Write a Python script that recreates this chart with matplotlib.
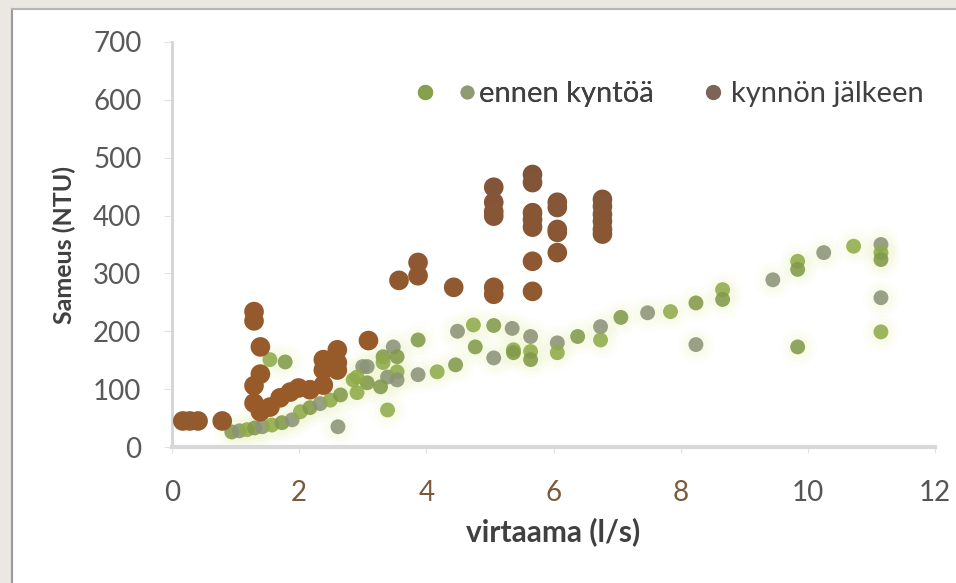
import matplotlib
matplotlib.use("Agg")
import matplotlib.pyplot as plt
from matplotlib.lines import Line2D
from matplotlib.legend_handler import HandlerTuple
from matplotlib.colors import LinearSegmentedColormap
from matplotlib.patches import Rectangle

plt.rcParams['font.family'] = ['Lato', 'DejaVu Sans']

# ---- data ----
series_names = ["ennen kyntöä", "kynnön jälkeen"]

before_x = [0.94, 1.06, 1.18, 1.30, 1.42, 1.57, 1.73, 1.89, 2.02, 2.17, 2.33, 2.49, 2.65,
            2.61, 1.54, 1.78,
            3.00, 2.85, 3.07, 3.39, 3.54, 3.32, 3.48, 3.39, 3.87, 3.87, 4.17, 4.46,
            4.49, 4.74, 4.77, 5.06, 5.37, 5.06, 5.35,
            3.32, 3.54, 3.07, 2.91, 3.28, 3.54, 2.91,
            5.37, 5.64, 5.64, 5.64, 6.06, 6.06, 6.38, 6.74, 6.74, 7.06, 7.48, 7.84,
            8.24, 8.24, 8.66, 8.66, 9.45, 9.84, 9.84, 10.25, 10.72, 9.84,
            11.15, 11.15, 11.15, 11.15, 11.15]
before_y = [26, 28, 30, 33, 35, 38, 42, 47, 61, 68, 75, 81, 90,
            35, 151, 147,
            139, 116, 111, 121, 130, 156, 173, 64, 185, 125, 130, 142,
            200, 211, 173, 154, 168, 210, 205,
            146, 156, 139, 121, 104, 116, 94,
            163, 191, 165, 151, 180, 163, 191, 208, 185, 224, 232, 234,
            249, 177, 272, 255, 289, 321, 307, 336, 347, 173,
            350, 336, 324, 258, 199]

after_x = [0.17, 0.28, 0.41, 0.79, 1.29, 1.29, 1.39, 1.39, 1.29, 1.29, 1.39, 1.54,
           1.70, 1.86, 1.99, 2.17, 2.38, 2.38, 2.38, 2.60, 2.60, 2.60, 3.09, 3.57,
           3.87, 3.87, 4.43, 5.06, 5.06, 5.06, 5.06, 5.06, 5.06, 5.67, 5.67, 5.67,
           5.67, 5.67, 5.67, 5.67, 6.06, 6.06, 6.06, 6.06, 6.06, 6.77, 6.77, 6.77,
           6.77, 6.77, 6.77]
after_y = [45, 45, 45, 45, 234, 218, 173, 126, 106, 76, 61, 69,
           85, 95, 102, 99, 107, 151, 133, 168, 146, 133, 184, 288,
           319, 296, 276, 449, 423, 407, 399, 276, 264, 471, 457, 405,
           393, 380, 321, 269, 423, 414, 376, 371, 336, 428, 416, 402,
           390, 376, 368]

x_ticks = [0, 2, 4, 6, 8, 10, 12]
y_ticks = [0, 100, 200, 300, 400, 500, 600, 700]
x_label = "virtaama (l/s)"
y_label = "Sameus (NTU)"

# ---- figure ----
fig = plt.figure(figsize=(9.56, 5.83), dpi=100)
fig.patch.set_facecolor("white")
# scanned frame edges
fig.patches.append(Rectangle((0, 0), 11/956, 1, transform=fig.transFigure,
                             facecolor="#ebe7e3", edgecolor="none", zorder=0))
fig.patches.append(Rectangle((0, 1 - 8/583), 1, 8/583, transform=fig.transFigure,
                             facecolor="#ebe7e3", edgecolor="none", zorder=0))
fig.add_artist(Line2D([12/956, 12/956], [0, 1 - 9/583], transform=fig.transFigure,
                      color="#9a9a9a", lw=1.5))
fig.add_artist(Line2D([12/956, 1], [1 - 9/583, 1 - 9/583], transform=fig.transFigure,
                      color="#b5b5b5", lw=1.5))

ax = fig.add_axes([172/956, 1 - 447/583, (935 - 172)/956, (447 - 42)/583])
ax.set_xlim(0, 12)
ax.set_ylim(0, 700)

# green series with faint haze
for s_, a_ in [(700, 0.10), (420, 0.14), (240, 0.18)]:
    ax.scatter(before_x, before_y, s=s_, color="#f1f8cf", alpha=a_, lw=0, zorder=1)
shades = ["#82994a", "#8b9378", "#8fab4a"]
green_cols = [shades[i % 3] for i in range(len(before_x))]
ax.scatter(before_x, before_y, s=115, marker="o", c=green_cols, alpha=0.88,
           lw=0, zorder=2)

# brown series
cmap = LinearSegmentedColormap.from_list(
    "br", [(0, "#805a46"), (0.12, "#985a28"), (0.4, "#975b2b"), (1, "#80543a")])
ax.scatter(after_x, after_y, s=200, c=after_y, cmap=cmap, vmin=0, vmax=480,
           lw=0, zorder=3)

for sp in ["top", "right"]:
    ax.spines[sp].set_visible(False)
ax.spines["left"].set_color("#d4d4d4")
ax.spines["left"].set_linewidth(2)
ax.spines["bottom"].set_color("#d8d8d8")
ax.spines["bottom"].set_linewidth(3)

ax.set_xticks(x_ticks)
ax.set_yticks(y_ticks)
ax.set_xticklabels([str(t) for t in x_ticks])
ax.set_yticklabels([str(t) for t in y_ticks])
ax.tick_params(axis="y", length=6, color="#e2e2e2", labelsize=20, labelcolor="#595959", pad=16)
ax.tick_params(axis="x", length=4, color="#e2e2e2", labelsize=20, pad=20)
xcols = ["#555555", "#7a5a38", "#7a5a38", "#7a5a38", "#7a5a38", "#555555", "#555555"]
for lab, c in zip(ax.get_xticklabels(), xcols):
    lab.set_color(c)

ax.set_xlabel(x_label, fontsize=21.5, fontweight="bold", color="#404040", labelpad=8)
ax.set_ylabel(y_label, fontsize=18, fontweight="bold", color="#404040", labelpad=12)

# legends
h_green = (Line2D([], [], ls="none", marker="o", ms=10, color="#86a04c", alpha=0.9),
           Line2D([], [], ls="none", marker="o", ms=9, color="#8f9a74", alpha=0.9))
leg1 = fig.legend([h_green], [series_names[0]], loc="center left",
                  bbox_to_anchor=(405/956, 1 - 94/583), frameon=False, borderpad=0,
                  handler_map={tuple: HandlerTuple(ndivide=None, pad=1.1)},
                  handlelength=1.8, handletextpad=0.25, fontsize=21,
                  labelcolor="#404040")
h_brown = Line2D([], [], ls="none", marker="o", ms=10, color="#7d6358")
leg2 = fig.legend([h_brown], [series_names[1]], loc="center left",
                  bbox_to_anchor=(690/956, 1 - 94/583), frameon=False, borderpad=0,
                  handlelength=0.6, handletextpad=0.3, fontsize=21,
                  labelcolor="#404040")
fig.add_artist(leg1)

fig.savefig("out.png", dpi=100)
